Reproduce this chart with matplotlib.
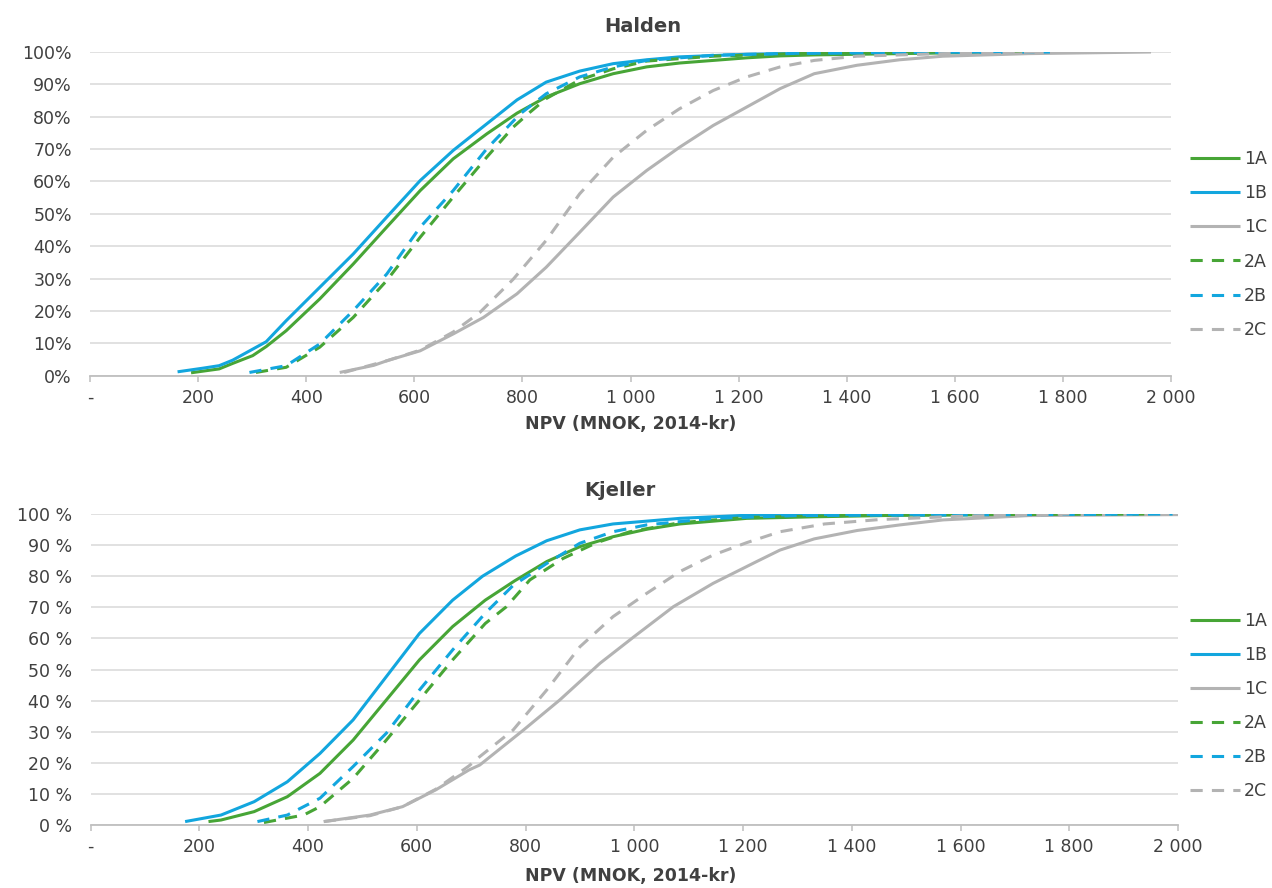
import matplotlib
matplotlib.use("Agg")
import matplotlib.pyplot as plt

plt.rcParams['font.family'] = ['DejaVu Sans']

# ---------------- data ----------------
series_names = ["1A", "1B", "1C", "2A", "2B", "2C"]

# Halden (x: NPV MNOK, y: cumulative %)
h_1A_x = [187, 239, 264, 301, 326, 363, 425, 487, 549, 611, 672, 734, 790, 844, 906, 968, 1030, 1091, 1215, 1277, 1340, 1578, 1850]
h_1A_y = [0.9, 2.1, 3.8, 6.2, 9, 13.9, 23.7, 34.5, 45.9, 57.2, 67, 74.7, 81.1, 86.1, 90.2, 93.3, 95.4, 96.6, 98.2, 98.8, 99.1, 99.7, 100]
h_1B_x = [162, 208, 239, 264, 301, 326, 363, 425, 487, 549, 611, 672, 734, 790, 844, 906, 968, 1030, 1091, 1215, 1400, 1700]
h_1B_y = [1.2, 2.3, 3.1, 4.8, 8.2, 10.5, 17, 27.3, 37.6, 49, 60.3, 69.6, 77.8, 85.2, 90.7, 94.1, 96.4, 97.6, 98.5, 99.3, 99.8, 100]
h_1C_x = [462, 525, 549, 611, 672, 728, 790, 844, 906, 968, 1030, 1091, 1153, 1215, 1277, 1340, 1419, 1498, 1578, 1737, 1963]
h_1C_y = [1, 3.2, 4.6, 7.7, 12.9, 18, 25.3, 33.5, 44.3, 55.2, 63.4, 70.6, 77.3, 83, 88.7, 93.3, 95.9, 97.6, 98.7, 99.5, 100]
h_2A_x = [307, 363, 425, 487, 549, 611, 672, 734, 783, 814, 844, 906, 968, 1030, 1153, 1300, 1580]
h_2A_y = [1, 2.6, 8.8, 18, 29.4, 42.8, 55.2, 67.5, 76.8, 81.4, 85.6, 91.4, 94.8, 97.2, 98.7, 99.5, 100]
h_2B_x = [295, 363, 425, 487, 549, 611, 672, 734, 796, 844, 906, 968, 1030, 1153, 1300, 1776]
h_2B_y = [1, 3.1, 9.8, 20.1, 31.4, 45.9, 57.2, 70.1, 80.9, 87.1, 92.3, 95.4, 97.4, 99, 99.6, 100]
h_2C_x = [470, 549, 611, 672, 721, 783, 844, 906, 968, 1030, 1091, 1153, 1215, 1277, 1340, 1419, 1578, 1750]
h_2C_y = [1, 4.6, 7.9, 13.5, 19.5, 29.8, 41.8, 56.2, 67.5, 75.8, 82.5, 88.1, 92.3, 95.4, 97.4, 98.7, 99.5, 100]

# Kjeller
k_1A_x = [217, 240, 301, 362, 422, 483, 544, 605, 666, 726, 780, 839, 900, 961, 1023, 1084, 1207, 1331, 1489, 1700, 1938]
k_1A_y = [1.1, 1.6, 4.3, 9.1, 16.6, 27.3, 40.2, 53.1, 63.8, 72.3, 78.5, 84.7, 89.5, 92.7, 95.1, 96.8, 98.6, 99.1, 99.6, 99.9, 100]
k_1B_x = [174, 240, 301, 362, 422, 483, 544, 605, 666, 721, 782, 839, 900, 961, 1084, 1207, 1400, 1800]
k_1B_y = [1.1, 3.2, 7.5, 13.9, 23, 33.8, 47.7, 61.6, 72.3, 80, 86.5, 91.4, 94.9, 96.8, 98.6, 99.6, 99.9, 100]
k_1C_x = [429, 514, 574, 635, 696, 716, 796, 863, 937, 1000, 1072, 1145, 1225, 1268, 1331, 1410, 1489, 1568, 1726, 2000]
k_1C_y = [1.1, 3.2, 5.9, 11.3, 17.7, 19.3, 30.5, 40.2, 52, 60.6, 70.2, 77.7, 84.7, 88.4, 92, 94.7, 96.5, 98.1, 99.5, 99.8]
k_2A_x = [319, 392, 422, 483, 544, 605, 666, 726, 765, 808, 869, 931, 992, 1084, 1207, 1410, 1938]
k_2A_y = [0.8, 3.2, 5.9, 15, 27.3, 40.2, 53.1, 64.8, 70.2, 78.8, 85.7, 90.8, 94.3, 97.2, 98.9, 99.6, 100]
k_2B_x = [307, 362, 422, 483, 544, 605, 666, 726, 777, 839, 900, 961, 1023, 1145, 1300, 1990]
k_2B_y = [1.1, 3.2, 8.6, 18.8, 29.5, 43.4, 56.3, 68.1, 77, 84.1, 90.6, 94.3, 96.5, 98.6, 99.5, 100]
k_2C_x = [429, 514, 574, 635, 696, 716, 777, 839, 900, 961, 1023, 1084, 1145, 1207, 1268, 1350, 1450, 1600, 1800]
k_2C_y = [1.1, 3.0, 5.9, 11.5, 19, 22, 30.5, 43.4, 57.3, 67, 74.5, 81.5, 86.8, 90.8, 94.3, 96.8, 98.2, 99.3, 100]

x_ticks = [0, 200, 400, 600, 800, 1000, 1200, 1400, 1600, 1800, 2000]
x_ticklabels = ["-", "200", "400", "600", "800", "1 000", "1 200", "1 400", "1 600", "1 800", "2 000"]
y_ticks = [0, 10, 20, 30, 40, 50, 60, 70, 80, 90, 100]
y_ticklabels_halden = ["0%", "10%", "20%", "30%", "40%", "50%", "60%", "70%", "80%", "90%", "100%"]
y_ticklabels_kjeller = ["0 %", "10 %", "20 %", "30 %", "40 %", "50 %", "60 %", "70 %", "80 %", "90 %", "100 %"]

# ---------------- styles ----------------
GREEN = "#47A536"
BLUE = "#12A6DE"
GRAY = "#B3B3B3"
TXT = "#404040"
colors = {"1A": GREEN, "1B": BLUE, "1C": GRAY, "2A": GREEN, "2B": BLUE, "2C": GRAY}
styles = {"1A": "-", "1B": "-", "1C": "-", "2A": (0, (4, 3)), "2B": (0, (4, 3)), "2C": (0, (4, 3))}
LW = 2.2

fig = plt.figure(figsize=(12.72, 8.88), dpi=100)


def make_axes(rect, title, title_xy, data, yticklabels, xlabel_y, legend_center_y):
    ax = fig.add_axes(rect)
    for name in series_names:
        xs, ys = data[name]
        ax.plot(xs, ys, color=colors[name], linestyle=styles[name], lw=LW, label=name,
                solid_capstyle="butt", dash_capstyle="butt")
    ax.set_xlim(0, 2000)
    ax.set_ylim(0, 100)
    ax.set_xticks(x_ticks)
    ax.set_xticklabels(x_ticklabels)
    ax.set_yticks(y_ticks)
    ax.set_yticklabels(yticklabels)
    ax.grid(axis="y", color="#D9D9D9", lw=1.1)
    ax.set_axisbelow(True)
    for s in ["left", "right", "top"]:
        ax.spines[s].set_visible(False)
    ax.spines["bottom"].set_color("#BFBFBF")
    ax.spines["bottom"].set_linewidth(1.3)
    ax.tick_params(axis="x", direction="out", length=4.5, width=1.1, color="#BFBFBF",
                   labelsize=12.5, labelcolor=TXT, pad=5)
    ax.tick_params(axis="y", length=0, labelsize=12.5, labelcolor=TXT, pad=13)
    fig.text(title_xy[0] / 1272, 1 - title_xy[1] / 888, title, ha="center", va="center",
             fontsize=14, fontweight="bold", color=TXT)
    fig.text(631 / 1272, 1 - xlabel_y / 888, "NPV (MNOK, 2014-kr)", ha="center", va="center",
             fontsize=12.5, fontweight="bold", color=TXT)
    leg = ax.legend(loc="center left", bbox_to_anchor=(1183 / 1272, 1 - legend_center_y / 888),
                    bbox_transform=fig.transFigure, frameon=False,
                    fontsize=12.5, handlelength=2.9, handletextpad=0.2, labelspacing=0.93,
                    borderaxespad=0.0)
    for t in leg.get_texts():
        t.set_color(TXT)
    return ax


halden = {"1A": (h_1A_x, h_1A_y), "1B": (h_1B_x, h_1B_y), "1C": (h_1C_x, h_1C_y),
          "2A": (h_2A_x, h_2A_y), "2B": (h_2B_x, h_2B_y), "2C": (h_2C_x, h_2C_y)}
kjeller = {"1A": (k_1A_x, k_1A_y), "1B": (k_1B_x, k_1B_y), "1C": (k_1C_x, k_1C_y),
           "2A": (k_2A_x, k_2A_y), "2B": (k_2B_x, k_2B_y), "2C": (k_2C_x, k_2C_y)}

make_axes([90 / 1272, 1 - 375.7 / 888, 1081 / 1272, 323.7 / 888], "Halden", (643, 27),
          halden, y_ticklabels_halden, 424, 244.5)
make_axes([90.5 / 1272, 1 - 825 / 888, 1087.5 / 1272, 311 / 888], "Kjeller", (620, 491),
          kjeller, y_ticklabels_kjeller, 876, 706)

fig.savefig("out.png", dpi=100)
